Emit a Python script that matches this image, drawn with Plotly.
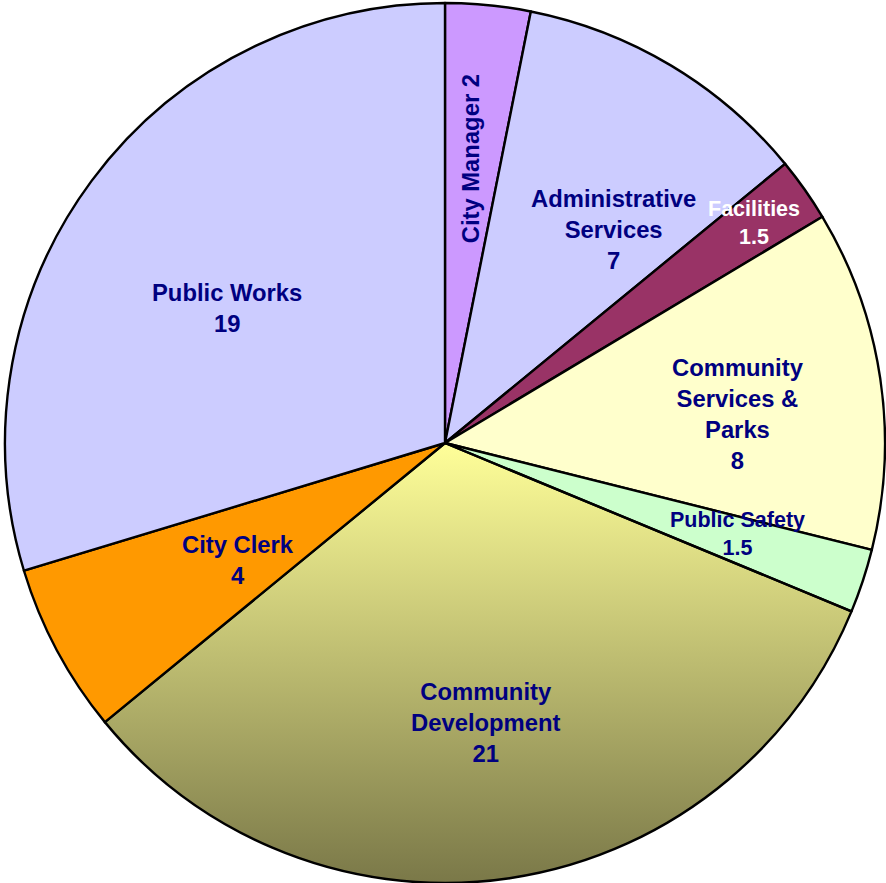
import numpy as np
import plotly.graph_objects as go

# Staffing by department (clockwise from 12 o'clock)
departments = ["City Manager", "Administrative Services", "Facilities",
               "Community Services & Parks", "Public Safety",
               "Community Development", "City Clerk", "Public Works"]
staff = [2, 7, 1.5, 8, 1.5, 21, 4, 19]

# Label text as it is broken over lines on the chart
label_lines = ["City Manager", "Administrative<br>Services", "Facilities",
               "Community<br>Services &<br>Parks", "Public Safety",
               "Community<br>Development", "City Clerk", "Public Works"]

slice_colors = ["#CC99FF", "#CCCCFF", "#993366", "#FFFFCC", "#CCFFCC",
                "rgba(0,0,0,0)", "#FF9900", "#CCCCFF"]
gradient_slice = "Community Development"
gradient_colors = ["#FFFF99", "#7A7848"]

# Label anchors in unit-circle coordinates (pie centre = 0,0; radius = 1)
label_xy = {
    "City Manager": (0.057, 0.645),
    "Administrative Services": (0.384, 0.486),
    "Facilities": (0.702, 0.500),
    "Community Services & Parks": (0.667, 0.065),
    "Public Safety": (0.664, -0.207),
    "Community Development": (0.093, -0.635),
    "City Clerk": (-0.470, -0.267),
    "Public Works": (-0.495, 0.307),
}
small_labels = {"Facilities", "Public Safety"}
white_labels = {"Facilities"}

W, H = 886, 883
CX, CY, R = 445, 443, 440  # pie centre and radius in pixels

fig = go.Figure()

# Gradient fill for one slice, built from the cumulative shares
total = sum(staff)
idx = departments.index(gradient_slice)
start_deg = sum(staff[:idx]) / total * 360
end_deg = sum(staff[:idx + 1]) / total * 360
theta = np.radians(np.linspace(start_deg, end_deg, 200))
px = np.concatenate([[0], np.sin(theta), [0]])
py = np.concatenate([[0], np.cos(theta), [0]])
fig.add_trace(go.Scatter(
    x=px, y=py, mode="lines", fill="toself", line=dict(width=0),
    fillgradient=dict(type="vertical",
                      colorscale=[[0, gradient_colors[1]], [1, gradient_colors[0]]],
                      start=-1.0, stop=0.0),
    hoverinfo="skip", showlegend=False,
))

fig.add_trace(go.Pie(
    labels=departments, values=staff, sort=False, direction="clockwise",
    rotation=0, textinfo="none", hoverinfo="label+value",
    marker=dict(colors=slice_colors, line=dict(color="black", width=2.4)),
    domain=dict(x=[(CX - R) / W, (CX + R) / W],
                y=[(H - CY - R) / H, (H - CY + R) / H]),
    showlegend=False,
))

font_family = "Liberation Sans, Arial, sans-serif"
for name, text, val in zip(departments, label_lines, staff):
    x, y = label_xy[name]
    size = 21.5 if name in small_labels else 23.8
    color = "white" if name in white_labels else "#000080"
    if name == "City Manager":
        content = f"{text} {val:g}"
        angle = -90
    else:
        content = f"{text}<br>{val:g}"
        angle = 0
    fig.add_annotation(
        x=x, y=y, xref="x", yref="y", text=content, showarrow=False,
        textangle=angle, align="center", xanchor="center", yanchor="middle",
        font=dict(family=font_family, size=size, color=color, weight="bold"),
    )

fig.update_xaxes(range=[-CX / R, (W - CX) / R], visible=False, fixedrange=True)
fig.update_yaxes(range=[-(H - CY) / R, CY / R], visible=False, fixedrange=True)
fig.update_layout(
    width=W, height=H, margin=dict(l=0, r=0, t=0, b=0),
    paper_bgcolor="white", plot_bgcolor="white",
)

fig.write_html("out.html")
